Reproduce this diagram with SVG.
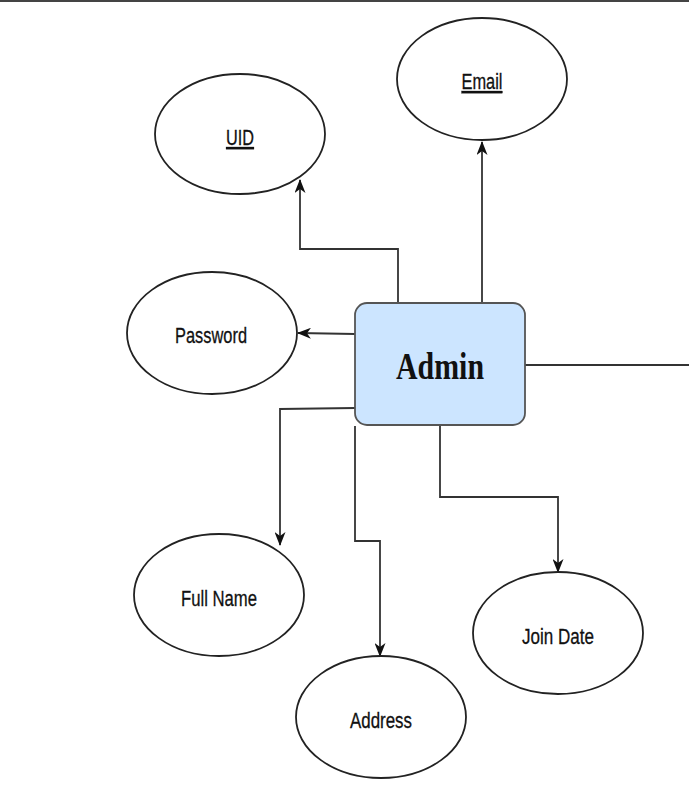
<svg xmlns="http://www.w3.org/2000/svg" width="689" height="807" viewBox="0 0 689 807">
<defs>
<marker id="arr" viewBox="0 0 14 11" refX="13" refY="5.5" markerWidth="14" markerHeight="11" markerUnits="userSpaceOnUse" orient="auto">
<path d="M0,0 L14,5.5 L0,11 L4,5.5 z" fill="#111"/>
</marker>
<style>
.attr{fill:#fff;stroke:#222;stroke-width:1.8}
.lbl{font-family:"Liberation Sans",Arial,sans-serif;font-size:22px;fill:#111;stroke:#111;stroke-width:0.3;text-anchor:middle}
.key{text-decoration:underline}
.conn{fill:none;stroke:#333;stroke-width:1.8}
.ent{fill:#cce5ff;stroke:#555;stroke-width:1.8}
.title{font-family:"Liberation Serif","Times New Roman",serif;font-weight:bold;font-size:38px;fill:#111;text-anchor:middle}
</style>
</defs>
<rect x="0" y="0" width="689" height="807" fill="#fff"/>
<line x1="0" y1="1" x2="689" y2="1" stroke="#444" stroke-width="2"/>
<g id="connectors">
<polyline class="conn" points="398,302 398,249 300,249 300,180" marker-end="url(#arr)"/>
<polyline class="conn" points="482,302 482,142" marker-end="url(#arr)"/>
<polyline class="conn" points="355,334 298,333" marker-end="url(#arr)"/>
<polyline class="conn" points="525,365 689,365"/>
<polyline class="conn" points="355,408 280,409 280,545" marker-end="url(#arr)"/>
<polyline class="conn" points="355,426 355,541 380,541 380,656" marker-end="url(#arr)"/>
<polyline class="conn" points="440,425 440,497 558,497 558,572" marker-end="url(#arr)"/>
</g>
<g id="admin">
<rect class="ent" x="355" y="303" width="170" height="122" rx="12" ry="12"/>
<text class="title" x="440" y="379" textLength="88" lengthAdjust="spacingAndGlyphs">Admin</text>
</g>
<g id="uid">
<ellipse class="attr" cx="240" cy="134" rx="85" ry="60"/>
<text class="lbl key" x="240" y="145" textLength="28" lengthAdjust="spacingAndGlyphs">UID</text>
</g>
<g id="email">
<ellipse class="attr" cx="482" cy="79" rx="85" ry="61"/>
<text class="lbl key" x="482" y="89" textLength="41" lengthAdjust="spacingAndGlyphs">Email</text>
</g>
<g id="password">
<ellipse class="attr" cx="212" cy="333" rx="85" ry="61"/>
<text class="lbl" x="211" y="343" textLength="72" lengthAdjust="spacingAndGlyphs">Password</text>
</g>
<g id="fullname">
<ellipse class="attr" cx="219" cy="595" rx="85" ry="61"/>
<text class="lbl" x="219" y="606" textLength="76" lengthAdjust="spacingAndGlyphs">Full Name</text>
</g>
<g id="address">
<ellipse class="attr" cx="381" cy="717" rx="85" ry="61"/>
<text class="lbl" x="381" y="728" textLength="62" lengthAdjust="spacingAndGlyphs">Address</text>
</g>
<g id="joindate">
<ellipse class="attr" cx="558" cy="633" rx="85" ry="61"/>
<text class="lbl" x="558" y="644" textLength="72" lengthAdjust="spacingAndGlyphs">Join Date</text>
</g>
</svg>
